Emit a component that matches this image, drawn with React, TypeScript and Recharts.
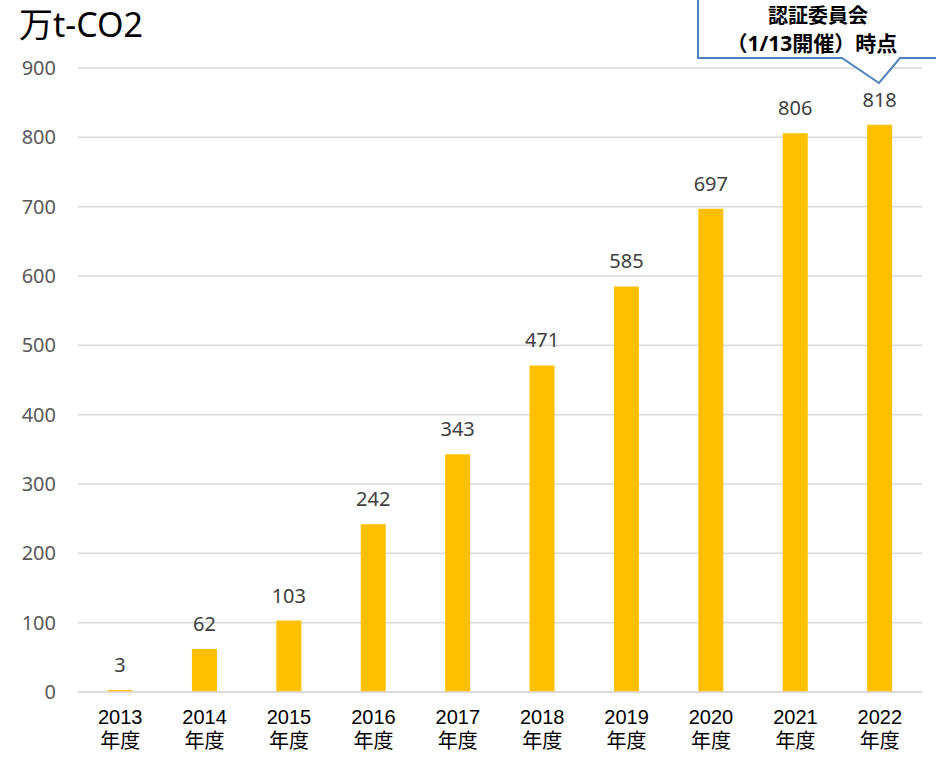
import React from 'react';
import { BarChart, Bar, XAxis, YAxis, CartesianGrid, LabelList } from 'recharts';

const categories = ['2013', '2014', '2015', '2016', '2017', '2018', '2019', '2020', '2021', '2022'];
const values = [3, 62, 103, 242, 343, 471, 585, 697, 806, 818];
const yTicks = [0, 100, 200, 300, 400, 500, 600, 700, 800, 900];
const unitLabel = '万t-CO2';
const yearSuffix = '年度';
const calloutLines = ['認証委員会', '（1/13開催）時点'];

const data = categories.map((c, i) => ({ year: c, value: values[i] }));

const FONT = '"Noto Sans", "Noto Sans CJK JP", sans-serif';
const XFONT = '"Liberation Sans", "Noto Sans CJK JP", sans-serif';

const XTick = (props: any) => {
  const { x, y, payload } = props;
  return (
    <g>
      <text x={x} y={y} textAnchor="middle" fill="#000" fontSize={20} fontFamily={XFONT}>
        <tspan x={x} dy={32}>{payload.value}</tspan>
        <tspan x={x} dy={24}>{yearSuffix}</tspan>
      </text>
    </g>
  );
};

export default function App() {
  return (
    <div style={{ position: 'absolute', left: 0, top: 0, width: 936, height: 762, background: '#fff' }}>
      <BarChart
        width={936}
        height={762}
        data={data}
        margin={{ top: 68, right: 14, left: 18, bottom: 0 }}
        barCategoryGap="35%"
      >
        <CartesianGrid vertical={false} stroke="#D9D9D9" strokeWidth={1.5} />
        <XAxis
          dataKey="year"
          height={70}
          tickLine={false}
          axisLine={{ stroke: '#D9D9D9', strokeWidth: 1.5 }}
          tick={<XTick />}
          tickSize={0}
          tickMargin={0}
          interval={0}
        />
        <YAxis
          width={60}
          domain={[0, 900]}
          ticks={yTicks}
          axisLine={false}
          tickLine={false}
          tickSize={0}
          tickMargin={22}
          tick={{ fill: '#595959', fontSize: 20, fontFamily: FONT }}
        />
        <Bar dataKey="value" fill="#FFC000" isAnimationActive={false}>
          <LabelList dataKey="value" position="top" offset={18} fill="#404040" fontSize={20} fontFamily={FONT} />
        </Bar>
      </BarChart>
      <div
        style={{
          position: 'absolute',
          left: 19,
          top: 4,
          fontSize: 34,
          fontFamily: FONT,
          color: '#000',
          lineHeight: '40px',
        }}
      >
        {unitLabel}
      </div>
      <svg width={936} height={100} style={{ position: 'absolute', left: 0, top: 0 }}>
        <path
          d="M698,-5 L698,58 L842,58 L879,83 L900,58 L945,58 L945,-5"
          fill="#fff"
          stroke="#4F81BD"
          strokeWidth={2}
        />
        <text x={818} y={23} textAnchor="middle" fontSize={20} fontWeight="bold" fill="#000" fontFamily={FONT}>
          {calloutLines[0]}
        </text>
        <text x={812} y={51} textAnchor="middle" fontSize={21} fontWeight="bold" fill="#000" fontFamily={FONT}>
          {calloutLines[1]}
        </text>
      </svg>
    </div>
  );
}
